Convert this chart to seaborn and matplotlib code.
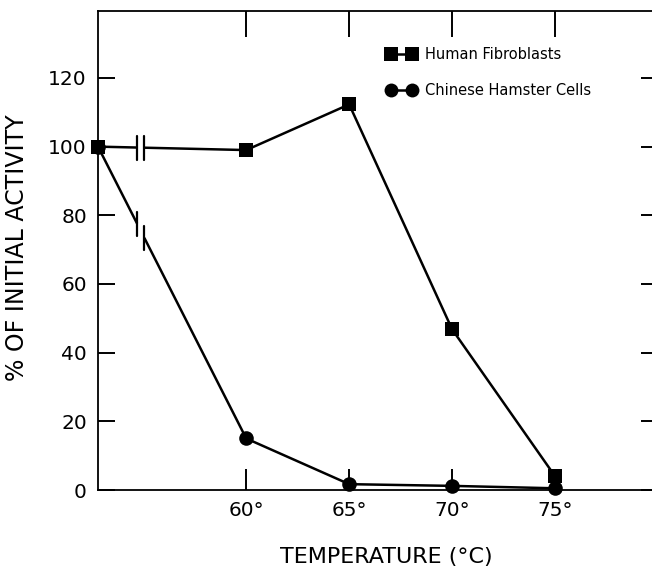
import numpy as np
import pandas as pd
import matplotlib
matplotlib.use("Agg")
import matplotlib.pyplot as plt
import seaborn as sns
from matplotlib.lines import Line2D

# ---- data ----
temps = [52.8, 60, 65, 70, 75]          # first point = initial (at the axis)
human_fibroblasts = [100, 99, 112.3, 46.8, 4.0]
hamster_cells = [100, 15, 1.7, 1.2, 0.5]
series_names = ["Human Fibroblasts", "Chinese Hamster Cells"]
xtick_vals = [60, 65, 70, 75]
xtick_labels = ["60°", "65°", "70°", "75°"]
ytick_vals = [0, 20, 40, 60, 80, 100, 120]

df = pd.DataFrame({
    "temp": temps * 2,
    "activity": human_fibroblasts + hamster_cells,
    "series": [series_names[0]] * len(temps) + [series_names[1]] * len(temps),
})

sns.set_theme(style="white")
plt.rcParams["font.family"] = ["DejaVu Sans"]
plt.rcParams["text.color"] = "black"

fig = plt.figure(figsize=(6.52, 5.68), dpi=100)
ax = fig.add_axes([98 / 652, 1 - 490 / 568, 560 / 652, (490 - 11) / 568])

sns.lineplot(data=df, x="temp", y="activity", hue="series", style="series",
             markers={series_names[0]: "s", series_names[1]: "o"}, dashes=False,
             palette={series_names[0]: "black", series_names[1]: "black"},
             markersize=10.5, linewidth=1.8, markeredgewidth=0, ax=ax,
             legend=False, clip_on=False, zorder=3)

ax.set_xlim(52.8, 80.0)
ax.set_ylim(0, 139.5)

# axis break marks on the first segment of each line
brk = [54.7, 55.05]
for vals in (human_fibroblasts, hamster_cells):
    yb = np.interp(brk, temps[:2], vals[:2])
    ax.plot(brk, yb, color="white", lw=4, zorder=4, solid_capstyle="butt")
    for xb, yv in zip(brk, yb):
        ax.plot([xb, xb], [yv - 3.5, yv + 3.5], color="black", lw=1.6, zorder=5)

# spines
for s in ["left", "bottom", "top"]:
    ax.spines[s].set_visible(True)
    ax.spines[s].set_color("black")
    ax.spines[s].set_linewidth(1.3)
ax.spines["right"].set_visible(False)

ax.set_xticks(xtick_vals)
ax.set_xticklabels(xtick_labels)
ax.set_yticks(ytick_vals)
ax.tick_params(axis="x", direction="in", top=True, bottom=True, length=15,
               width=1.4, labelsize=14.5, pad=8, colors="black")
ax.tick_params(axis="y", direction="in", left=True, right=True, length=12,
               width=1.4, labelsize=14.5, pad=8, colors="black")
for t in ax.xaxis.get_major_ticks():
    t.tick2line.set_markersize(19)

ax.set_xlabel("TEMPERATURE (°C)", fontsize=16, color="black")
ax.set_ylabel("% OF INITIAL ACTIVITY", fontsize=17, color="black")
ax.xaxis.set_label_coords((386 - 98) / 560, -(547 - 490) / 479)
ax.yaxis.set_label_coords(-(98 - 29) / 560, (490 - 248) / 479)

handles = [
    Line2D([], [], color="black", marker="s", markersize=9.5, lw=1.8, markeredgewidth=0),
    Line2D([], [], color="black", marker="o", markersize=10, lw=1.8, markeredgewidth=0),
]
leg = ax.legend(handles, series_names, loc="upper left",
                bbox_to_anchor=((381 - 98) / 560, (490 - 41) / 479),
                frameon=False, numpoints=2, handlelength=2.0, handletextpad=0.6,
                labelspacing=1.45, fontsize=10.5, borderaxespad=0,
                labelcolor="black")

fig.savefig("out.png", dpi=100)
